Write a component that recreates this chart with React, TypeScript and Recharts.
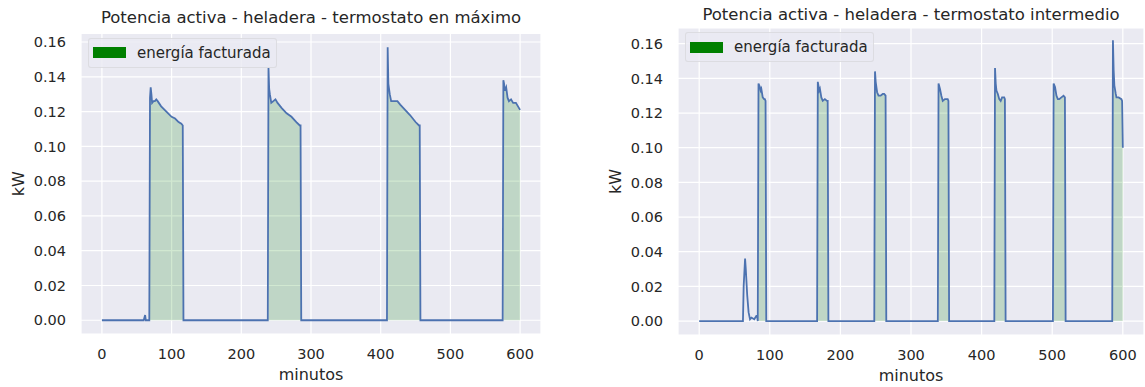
import { Area, CartesianGrid, ComposedChart, Label, Line, XAxis, YAxis } from 'recharts'

// termostato en máximo
const maxMinutes = [
  0, 60, 62, 63, 68, 69, 70, 71, 72, 74, 76, 78, 80, 85, 90, 95, 100, 105, 110, 114, 116, 117,
  238, 239, 240, 241, 243, 246, 249, 252, 258, 265, 272, 279, 284, 285, 286,
  409, 410, 411, 413, 415, 420, 424, 428, 435, 442, 450, 455, 456, 457,
  575, 576, 577, 578, 580, 582, 584, 587, 590, 594, 597, 600,
]
const maxPower = [
  0, 0, 0.003, 0, 0, 0.128, 0.134, 0.13, 0.125, 0.126, 0.126, 0.127, 0.126, 0.123, 0.121, 0.119, 0.117, 0.116, 0.114, 0.113, 0.112, 0,
  0, 0.145, 0.133, 0.13, 0.125, 0.126, 0.127, 0.125, 0.122, 0.119, 0.117, 0.114, 0.112, 0.112, 0,
  0, 0.157, 0.136, 0.13, 0.126, 0.126, 0.126, 0.124, 0.121, 0.118, 0.114, 0.112, 0.112, 0,
  0, 0.138, 0.136, 0.132, 0.134, 0.128, 0.126, 0.127, 0.125, 0.125, 0.123, 0.121,
]
const maxBilled = [[69, 117], [239, 286], [410, 457], [576, 600]]

// termostato intermedio
const midMinutes = [
  0, 62, 63, 65, 66, 68, 70, 72, 74, 78, 81, 82, 83, 84, 86, 87, 88, 90, 92, 93, 94, 95,
  167, 168, 170, 171, 173, 175, 178, 181, 182, 183,
  248, 249, 250, 252, 254, 257, 260, 262, 264, 265,
  338, 339, 341, 343, 345, 348, 352, 353, 354,
  418, 419, 420, 421, 423, 425, 427, 429, 432, 433, 434,
  501, 502, 504, 506, 508, 510, 513, 516, 518, 519,
  585, 586, 587, 588, 590, 591, 594, 598, 599, 600,
]
const midPower = [
  0, 0, 0.02, 0.036, 0.03, 0.015, 0.005, 0.001, 0.002, 0.001, 0.003, 0.003, 0, 0.137, 0.135, 0.133, 0.134, 0.129, 0.128, 0.128, 0.127, 0,
  0, 0.138, 0.133, 0.134, 0.129, 0.127, 0.128, 0.127, 0.127, 0,
  0, 0.144, 0.138, 0.132, 0.13, 0.13, 0.131, 0.131, 0.13, 0,
  0, 0.137, 0.134, 0.13, 0.127, 0.128, 0.128, 0.127, 0,
  0, 0.146, 0.137, 0.133, 0.131, 0.128, 0.127, 0.129, 0.129, 0.128, 0,
  0, 0.137, 0.135, 0.13, 0.128, 0.128, 0.129, 0.13, 0.129, 0,
  0, 0.162, 0.145, 0.136, 0.131, 0.129, 0.129, 0.128, 0.127, 0.1,
]
const midBilled = [[84, 95], [168, 183], [249, 265], [339, 354], [419, 434], [502, 519], [586, 600]]

const xTicks = [0, 100, 200, 300, 400, 500, 600]
const yTicks = [0, 0.02, 0.04, 0.06, 0.08, 0.1, 0.12, 0.14, 0.16]

const TEXT = '#262626'
const FONT = 'DejaVu Sans, sans-serif'

function buildRows(minutes: number[], power: number[], billed: number[][]) {
  return minutes.map((t, i) => {
    const on = billed.some(([a, b]) => t >= a && t <= b)
    return { t, p: power[i], billed: on ? power[i] : null }
  })
}

type Panel = {
  title: string
  rows: { t: number; p: number; billed: number | null }[]
  offset: number
  plotLeft: number
  plotRight: number
  plotTop: number
  plotBottom: number
  yDomain: [number, number]
  titleY: number
}

const W = 560
const H = 387
const Y_AXIS_W = 60

function PowerPanel({ panel }: { panel: Panel }) {
  const { rows, offset, plotLeft, plotRight, plotTop, plotBottom, yDomain } = panel
  return (
    <div style={{ position: 'absolute', left: offset, top: 0, width: W, height: H }}>
      <div
        style={{
          position: 'absolute',
          left: plotLeft - 40,
          width: plotRight - plotLeft + 80,
          top: panel.titleY - 10,
          lineHeight: '20px',
          textAlign: 'center',
          fontSize: 16.5,
          color: TEXT,
          whiteSpace: 'nowrap',
        }}
      >
        {panel.title}
      </div>
      <ComposedChart
        width={W}
        height={H}
        data={rows}
        margin={{ top: plotTop, right: W - plotRight, bottom: 0, left: plotLeft - Y_AXIS_W }}
        style={{ fontFamily: FONT }}
      >
        <CartesianGrid fill="#EAEAF2" fillOpacity={1} stroke="#ffffff" strokeWidth={1.2} />
        <XAxis
          dataKey="t"
          type="number"
          domain={[-30, 630]}
          ticks={xTicks}
          allowDataOverflow
          axisLine={false}
          tickLine={false}
          tickSize={0}
          tickMargin={15}
          height={H - plotBottom}
          tick={{ fill: TEXT, fontSize: 14.5 }}
        >
          <Label
            content={({ viewBox }: any) => (
              <text
                x={viewBox.x + viewBox.width / 2}
                y={viewBox.y + 40}
                textAnchor="middle"
                dominantBaseline="central"
                fill={TEXT}
                fontSize={16}
              >
                minutos
              </text>
            )}
          />
        </XAxis>
        <YAxis
          type="number"
          domain={yDomain}
          ticks={yTicks}
          allowDataOverflow
          axisLine={false}
          tickLine={false}
          tickSize={0}
          tickMargin={15}
          width={Y_AXIS_W}
          tickFormatter={(v: number) => v.toFixed(2)}
          tick={{ fill: TEXT, fontSize: 14.5 }}
        >
          <Label
            content={({ viewBox }: any) => {
              const cx = viewBox.x + viewBox.width - 63
              const cy = viewBox.y + viewBox.height / 2
              return (
                <text
                  x={cx}
                  y={cy}
                  transform={`rotate(-90 ${cx} ${cy})`}
                  textAnchor="middle"
                  dominantBaseline="central"
                  fill={TEXT}
                  fontSize={16}
                >
                  kW
                </text>
              )
            }}
          />
        </YAxis>
        <Area
          dataKey="billed"
          type="linear"
          baseValue={0}
          fill="green"
          fillOpacity={0.18}
          stroke="none"
          connectNulls={false}
          isAnimationActive={false}
        />
        <Line
          dataKey="p"
          type="linear"
          stroke="#4C72B0"
          strokeWidth={1.8}
          dot={false}
          activeDot={false}
          isAnimationActive={false}
        />
      </ComposedChart>
      <div
        style={{
          position: 'absolute',
          left: plotLeft + 6.5,
          top: plotTop + 4,
          height: 30,
          display: 'flex',
          alignItems: 'center',
          padding: '0 5px 0 4.5px',
          background: 'rgba(234,234,242,0.8)',
          border: '1px solid rgba(204,204,204,0.45)',
          borderRadius: 3,
          boxSizing: 'border-box',
        }}
      >
        <span style={{ width: 33, height: 11, background: '#008000', display: 'inline-block' }} />
        <span style={{ marginLeft: 11, fontSize: 15, color: TEXT, lineHeight: '18px' }}>energía facturada</span>
      </div>
    </div>
  )
}

const panels: Panel[] = [
  {
    title: 'Potencia activa - heladera - termostato en máximo',
    rows: buildRows(maxMinutes, maxPower, maxBilled),
    offset: 0,
    plotLeft: 81,
    plotRight: 541,
    plotTop: 33.5,
    plotBottom: 334,
    yDomain: [-0.0079, 0.1649],
    titleY: 18,
  },
  {
    title: 'Potencia activa - heladera - termostato intermedio',
    rows: buildRows(midMinutes, midPower, midBilled),
    offset: 585,
    plotLeft: 93,
    plotRight: 559,
    plotTop: 28,
    plotBottom: 335,
    yDomain: [-0.00805, 0.16905],
    titleY: 15,
  },
]

export default function App() {
  return (
    <div
      style={{
        position: 'absolute',
        left: 0,
        top: 0,
        width: 1145,
        height: 387,
        background: '#ffffff',
        fontFamily: FONT,
        overflow: 'hidden',
      }}
    >
      {panels.map((p) => (
        <PowerPanel key={p.title} panel={p} />
      ))}
    </div>
  )
}
